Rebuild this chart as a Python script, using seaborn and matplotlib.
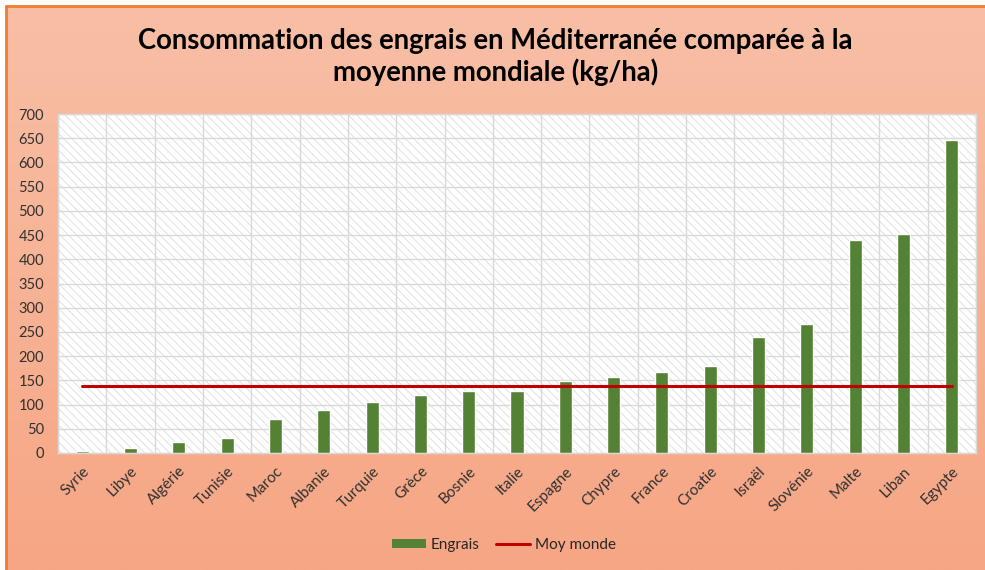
import numpy as np
import pandas as pd
import matplotlib
matplotlib.use("Agg")
import matplotlib.pyplot as plt
from matplotlib.patches import Rectangle, Patch
from matplotlib.lines import Line2D
from matplotlib.colors import LinearSegmentedColormap
import seaborn as sns

# Fertilizer use per country (kg/ha) and world average
countries = ["Syrie", "Libye", "Algérie", "Tunisie", "Maroc", "Albanie", "Turquie",
             "Grèce", "Bosnie", "Italie", "Espagne", "Chypre", "France", "Croatie",
             "Israël", "Slovénie", "Malte", "Liban", "Egypte"]
engrais = [4, 10, 23, 32, 70, 89, 105, 120, 127, 127, 148, 156, 167, 179,
           239, 267, 439, 452, 646]
moy_monde = 138
y_ticks = list(range(0, 701, 50))

title = "Consommation des engrais en Méditerranée comparée à la\nmoyenne mondiale (kg/ha)"

sns.set_theme(style="white")
plt.rcParams["font.family"] = ["Lato", "DejaVu Sans"]
plt.rcParams["hatch.linewidth"] = 0.6

W, H = 985, 570
fig = plt.figure(figsize=(W / 100, H / 100), dpi=100)
fig.patch.set_facecolor("white")

# chart-area background: vertical salmon gradient with orange frame
bg = fig.add_axes([6 / W, 0, 1 - 6 / W, 1 - 6 / H])
cmap = LinearSegmentedColormap.from_list("bg", ["#F8BFA6", "#F6A684"])
bg.imshow(np.linspace(0, 1, 256).reshape(-1, 1), aspect="auto", cmap=cmap,
          extent=[0, 1, 0, 1])
bg.set_xlim(0, 1)
bg.set_ylim(0, 1)
bg.axis("off")
fig.add_artist(Line2D([6 / W, 1], [1 - 6 / H, 1 - 6 / H], transform=fig.transFigure,
                      color="#ED7D31", lw=2))
fig.add_artist(Line2D([6 / W, 6 / W], [0, 1 - 6 / H], transform=fig.transFigure,
                      color="#ED7D31", lw=2))

left, right, bottom, top = 58 / W, 976 / W, (H - 453) / H, (H - 114) / H
ax = fig.add_axes([left, bottom, right - left, top - bottom])
ax.set_facecolor("white")
ax.add_patch(Rectangle((0, 0), 1, 1, transform=ax.transAxes, facecolor="none",
                       edgecolor="#DCDCDC", hatch="\\\\\\\\", lw=0, zorder=0))

df = pd.DataFrame({"pays": countries, "engrais": engrais})
sns.barplot(data=df, x="pays", y="engrais", color="#548235", width=0.27,
            saturation=1, ax=ax, zorder=3)
ax.plot(countries, [moy_monde] * len(countries), color="#C00000", lw=2.2, zorder=4)

ax.set_xlim(-0.5, len(countries) - 0.5)
ax.set_ylim(0, 700)
ax.set_yticks(y_ticks)
ax.set_yticklabels([str(v) for v in y_ticks], fontsize=10.5, color="#303030")
for v in y_ticks:
    ax.axhline(v, color="#D9D9D9", lw=1, zorder=1)
for i in range(len(countries) + 1):
    ax.axvline(i - 0.5, color="#D9D9D9", lw=1, zorder=1)
ax.set_xticks(range(len(countries)))
ax.set_xticklabels(countries, rotation=45, ha="right", rotation_mode="anchor",
                   fontsize=11, color="#303030")
ax.tick_params(axis="x", length=0, pad=8)
ax.tick_params(axis="y", length=0, pad=10)
ax.set_xlabel("")
ax.set_ylabel("")
for s in ax.spines.values():
    s.set_color("#D9D9D9")
    s.set_linewidth(1)

fig.text(0.5 + 3 / W, 1 - 57 / H, title, ha="center", va="center", fontsize=19.8,
         fontweight="bold", color="black", linespacing=1.22)

handles = [Patch(facecolor="#548235", edgecolor="none"),
           Line2D([0], [0], color="#C00000", lw=2.2)]
fig.legend(handles, ["Engrais", "Moy monde"], loc="center",
           bbox_to_anchor=(504 / W, 1 - 545 / H), ncol=2, frameon=False,
           fontsize=11, handlelength=2.2, handleheight=0.55, handletextpad=0.3,
           columnspacing=1.1)

fig.savefig("out.png", dpi=100)
